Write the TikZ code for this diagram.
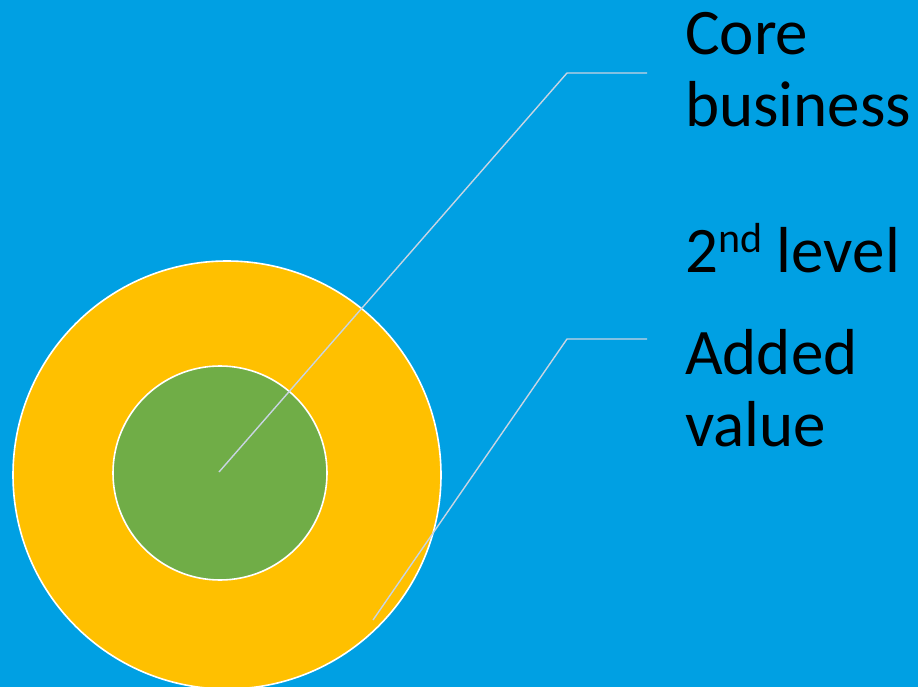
\documentclass[tikz,border=0pt]{standalone}
\usepackage{fontspec}
\setmainfont{Carlito}
\definecolor{bg}{HTML}{00A0E3}
\definecolor{outer}{HTML}{FFC000}
\definecolor{inner}{HTML}{70AD47}
\definecolor{leader}{HTML}{C8D4E2}
\newcommand{\mysup}[1]{\raisebox{20pt}{\fontsize{42}{50}\selectfont #1}}
\begin{document}
\begin{tikzpicture}[x=1pt,y=-1pt,
  ring/.style={circle,draw=white,line width=1.6pt,inner sep=0pt},
  leaderline/.style={draw=leader,line width=1.4pt},
  lbl/.style={anchor=base west,inner sep=0pt,font=\fontsize{65}{78}\selectfont}]
\fill[bg] (0,0) rectangle (918,687);
\useasboundingbox (0,0) rectangle (918,687);
\node[ring,fill=outer,minimum size=428pt] (outerc) at (227,475) {};
\node[ring,fill=inner,minimum size=214pt] (innerc) at (220,473) {};
\coordinate (p1) at (219,472);
\coordinate (k1) at (567,73);
\coordinate (e1) at (647,73);
\coordinate (p2) at (373,620);
\coordinate (k2) at (567,339);
\coordinate (e2) at (647,339);
\draw[leaderline] (p1) -- (k1) -- (e1);
\draw[leaderline] (p2) -- (k2) -- (e2);
\node[lbl] (core) at (685,55) {Core};
\node[lbl] (bus) at (685,127) {business};
\node[lbl] (lev) at (685,272) {2\mysup{nd} level};
\node[lbl] (add) at (685,374) {Added};
\node[lbl] (val) at (685,446) {value};
\end{tikzpicture}
\end{document}
